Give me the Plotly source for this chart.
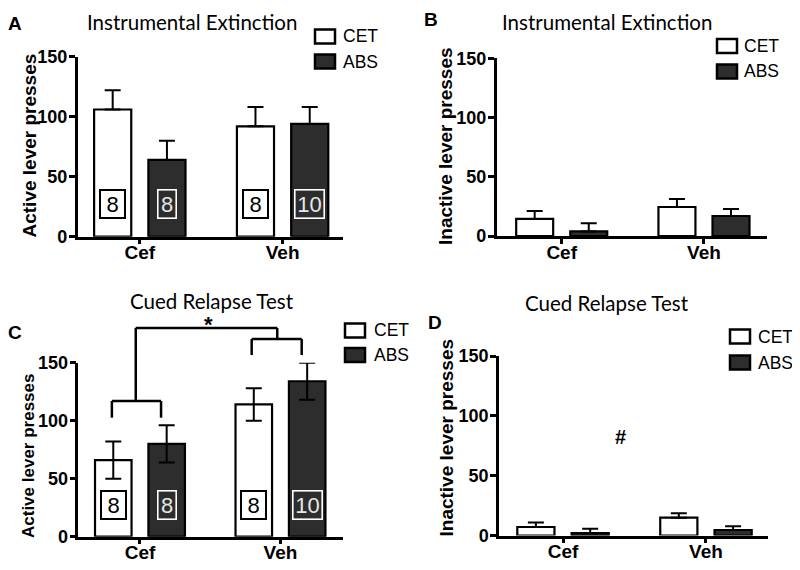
import plotly.graph_objects as go

# ---------------- data ----------------
groups = ["Cef", "Veh"]
series = ["CET", "ABS"]

A_cet = [106, 92]
A_cet_sem = [16, 16]
A_abs = [64, 94]
A_abs_sem = [16, 14]

B_cet = [14.4, 24.5]
B_cet_sem = [6.6, 6.7]
B_abs = [3.9, 16.9]
B_abs_sem = [6.8, 5.9]

C_cet = [66, 114]
C_cet_sem = [16, 14]
C_abs = [80, 134]
C_abs_sem = [16, 16]

D_cet = [7.1, 14.9]
D_cet_sem = [3.8, 3.7]
D_abs = [2.0, 4.6]
D_abs_sem = [3.7, 3.1]

n_cet = [8, 8]
n_abs = [8, 10]

yticks = [0, 50, 100, 150]

# page body has an 8px margin; size the figure so the page fits the window
OFF = 8
W, H = 800 - 2 * OFF, 570 - 2 * OFF
DARK = "#2d2d2d"
FONT = "Liberation Sans, Arial, sans-serif"
TFONT = "Lato, Open Sans, sans-serif"


def px(x):
    return (x - OFF) / W


def py(y):
    return 1 - (y - OFF) / H


# panel geometry (window pixels): x0, x1, ytop, ybottom, xrange
panels = {
    "A": dict(x0=77.7, x1=343, yt=56.7, yb=236.7, xr=[-0.435, 1.423]),
    "B": dict(x0=496.7, x1=767, yt=58.3, yb=236, xr=[-0.457, 1.443]),
    "C": dict(x0=78.3, x1=343, yt=362.7, yb=536.7, xr=[-0.439, 1.445]),
    "D": dict(x0=499, x1=768, yt=356, yb=535.5, xr=[-0.448, 1.434]),
}
ytitles = {"A": "Active lever presses", "B": "Inactive lever presses",
           "C": "Active lever presses", "D": "Inactive lever presses"}
# y-title placement (window px): centre x, centre y, font size
ytitle_pos = {"A": (28.5, 146, 19), "B": (445, 146, 19),
              "C": (29, 456, 17), "D": (445.5, 438, 19)}
data = {
    "A": (A_cet, A_cet_sem, A_abs, A_abs_sem, False),
    "B": (B_cet, B_cet_sem, B_abs, B_abs_sem, False),
    "C": (C_cet, C_cet_sem, C_abs, C_abs_sem, True),
    "D": (D_cet, D_cet_sem, D_abs, D_abs_sem, False),
}
axid = {"A": "", "B": "2", "C": "3", "D": "4"}

BW = 0.26
OFF_CET = -0.32
OFF_ABS = 0.06
xpos = [0, 1]

fig = go.Figure()
layout = dict(
    width=W, height=H, margin=dict(l=0, r=0, t=0, b=0, autoexpand=False),
    paper_bgcolor="white", plot_bgcolor="white",
    barmode="overlay", showlegend=False,
    font=dict(family=FONT, color="black"),
)
annotations = []
shapes = []

for key, g in panels.items():
    i = axid[key]
    cet, cet_sem, ab, ab_sem, sym = data[key]
    xa = "x" + i
    ya = "y" + i
    for name, vals, sem, off, col in [("CET", cet, cet_sem, OFF_CET, "white"),
                                       ("ABS", ab, ab_sem, OFF_ABS, DARK)]:
        err = dict(type="data", array=sem, color="black", thickness=2, width=8)
        if sym:
            err["symmetric"] = True
        else:
            err["symmetric"] = False
            err["arrayminus"] = [0] * len(sem)
        fig.add_trace(go.Bar(
            x=xpos, y=vals, name=name, width=BW, offset=off,
            marker=dict(color=col, line=dict(color="black", width=2.2)),
            error_y=err, xaxis=xa, yaxis=ya, showlegend=False,
        ))
    layout["xaxis" + i] = dict(
        domain=[px(g["x0"]), px(g["x1"])], range=g["xr"], anchor=ya,
        tickvals=xpos, ticktext=groups, ticks="outside", ticklen=5,
        tickwidth=2.5, tickcolor="black", showline=True, linewidth=2.5,
        linecolor="black", showgrid=False, zeroline=False, automargin=False,
        ticklabelstandoff=-8,
        tickfont=dict(family=FONT, size=19, color="black", weight="bold"),
        fixedrange=True,
    )
    layout["yaxis" + i] = dict(
        domain=[py(g["yb"]), py(g["yt"])], range=[0, 150], anchor=xa,
        tickvals=yticks, ticks="outside", ticklen=6, tickwidth=2.5,
        tickcolor="black", showline=True, linewidth=2.5, linecolor="black",
        showgrid=False, zeroline=False, automargin=False,
        ticklabelstandoff=-2,
        tickfont=dict(family=FONT, size=18, color="black", weight="bold"),
        fixedrange=True,
    )
    tx, ty, ts = ytitle_pos[key]
    annotations.append(dict(x=px(tx), y=py(ty), xref="paper", yref="paper",
                            text=ytitles[key], textangle=-90, showarrow=False,
                            xanchor="center", yanchor="middle",
                            font=dict(family=FONT, size=ts, color="black", weight="bold")))

# n-value boxes inside bars (panels A and C)
for key in ["A", "C"]:
    i = axid[key]
    for j in range(len(groups)):
        annotations.append(dict(
            x=xpos[j] + OFF_CET + BW / 2, y=27, xref="x" + i, yref="y" + i,
            text=str(n_cet[j]), showarrow=False, width=21, height=24,
            borderpad=1, borderwidth=2, bordercolor="black", bgcolor="white",
            font=dict(family=FONT, size=22, color="black")))
        wdt = 15 if n_abs[j] < 10 else 26
        annotations.append(dict(
            x=xpos[j] + OFF_ABS + BW / 2, y=27, xref="x" + i, yref="y" + i,
            text=str(n_abs[j]), showarrow=False, width=wdt, height=25,
            borderpad=1, borderwidth=1.6, bordercolor="white", bgcolor=DARK,
            font=dict(family=FONT, size=22, color="#e6e6e6")))

# legends (drawn)
legends = {
    "A": dict(bx=315, cy=[36.5, 61.5], tx=341),
    "B": dict(bx=717, cy=[46, 71.5], tx=742),
    "C": dict(bx=345, cy=[330.5, 355], tx=372),
    "D": dict(bx=730, cy=[336.5, 362.5], tx=756),
}
for key, L in legends.items():
    for k, (name, col) in enumerate([("CET", "white"), ("ABS", DARK)]):
        cy = L["cy"][k]
        shapes.append(dict(type="rect", xref="paper", yref="paper",
                           x0=px(L["bx"]), x1=px(L["bx"] + 20),
                           y0=py(cy + 7), y1=py(cy - 7),
                           fillcolor=col, line=dict(color="black", width=2.5)))
        annotations.append(dict(x=px(L["tx"]), y=py(cy), xref="paper", yref="paper",
                                xanchor="left", yanchor="middle", text=name,
                                showarrow=False,
                                font=dict(family=FONT, size=17.5, color="black")))

# titles and panel letters
titles = [("Instrumental Extinction", 192, 22), ("Instrumental Extinction", 607, 22),
          ("Cued Relapse Test", 212, 301), ("Cued Relapse Test", 607, 303)]
for t, x, y in titles:
    annotations.append(dict(x=px(x), y=py(y), xref="paper", yref="paper",
                            xanchor="center", yanchor="middle", text=t, showarrow=False,
                            font=dict(family=TFONT, size=20.5, color="black")))
letters = [("A", 15, 23), ("B", 431, 20), ("C", 14.5, 332), ("D", 434.5, 322.5)]
for t, x, y in letters:
    annotations.append(dict(x=px(x), y=py(y), xref="paper", yref="paper",
                            xanchor="center", yanchor="middle", text=t, showarrow=False,
                            font=dict(family=FONT, size=19, color="black", weight="bold")))

# significance brackets in C (data units converted to axis-domain fractions)
gC = panels["C"]


def cx(v):
    return (v - gC["xr"][0]) / (gC["xr"][1] - gC["xr"][0])


def cy_(v):
    return v / 150.0


brackets = [
    # Cef bracket
    (-0.2, 102.6, -0.2, 117), (-0.2, 117, 0.15, 117), (0.15, 117, 0.15, 102.6),
    # Veh bracket
    (0.795, 156.6, 0.795, 170.4), (0.795, 170.4, 1.151, 170.4), (1.151, 170.4, 1.151, 156.6),
    # top connector
    (-0.03, 117, -0.03, 180), (-0.03, 180, 0.977, 180), (0.977, 180, 0.977, 170.4),
]
for x0, y0, x1, y1 in brackets:
    shapes.append(dict(type="line", xref="x3 domain", yref="y3 domain",
                       x0=cx(x0), y0=cy_(y0), x1=cx(x1), y1=cy_(y1),
                       line=dict(color="black", width=2.5)))

annotations.append(dict(x=px(208), y=py(324), xref="paper", yref="paper", text="*",
                        showarrow=False, xanchor="center", yanchor="middle",
                        font=dict(family=FONT, size=22, color="black", weight="bold")))
annotations.append(dict(x=0.4, y=82, xref="x4", yref="y4", text="#",
                        showarrow=False,
                        font=dict(family=FONT, size=20, color="black", weight="bold")))

layout["annotations"] = annotations
layout["shapes"] = shapes
fig.update_layout(**layout)
fig.write_html("out.html")
